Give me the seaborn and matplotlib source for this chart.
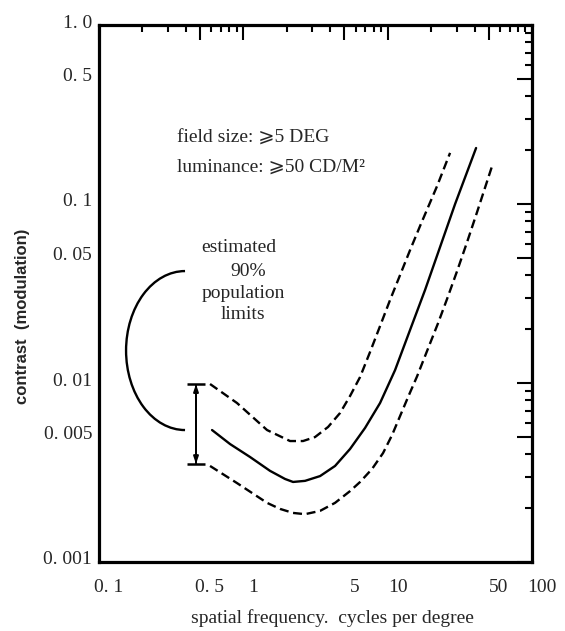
import numpy as np
import pandas as pd
import matplotlib
matplotlib.use("Agg")
import matplotlib.pyplot as plt
import matplotlib.ticker as mticker
import matplotlib.transforms as mtransforms
from matplotlib.patches import Arc
import seaborn as sns

# ---------------- data ----------------
solid_x = [0.607, 0.809, 1.113, 1.531, 1.945, 2.210, 2.677, 3.401, 4.320, 5.488, 6.972,
           8.857, 11.25, 14.30, 18.16, 23.07, 29.32, 40.98]
solid_y = [0.00546, 0.00456, 0.00386, 0.00323, 0.00291, 0.00280, 0.00284, 0.00302, 0.00344,
           0.00428, 0.00561, 0.00773, 0.0118, 0.0198, 0.0331, 0.0575, 0.100, 0.2055]

upper_x = [0.588, 0.904, 1.46, 2.106, 2.593, 3.140, 3.864, 4.68, 5.488, 6.44, 7.55, 8.857,
           10.39, 12.19, 14.30, 16.77, 22.0, 27.06]
upper_y = [0.00987, 0.00773, 0.00546, 0.00474, 0.00474, 0.00499, 0.00568, 0.00680, 0.00846,
           0.0108, 0.0149, 0.0208, 0.0291, 0.0401, 0.0553, 0.0754, 0.126, 0.193]

lower_x = [0.588, 0.904, 1.46, 1.796, 2.210, 2.677, 3.401, 4.320, 5.488, 6.44, 7.795, 9.29,
           10.73, 12.19, 13.85, 15.99, 18.75, 22.35, 25.8, 30.27, 35.51, 41.65, 52.9]
lower_y = [0.00344, 0.00276, 0.00214, 0.00198, 0.00188, 0.00185, 0.00193, 0.00214, 0.00249,
           0.00280, 0.00331, 0.00406, 0.00512, 0.00654, 0.00835, 0.0109, 0.0151, 0.0216,
           0.0295, 0.0422, 0.0613, 0.0902, 0.163]

# error bar marking the population limits
errbar_x = 0.47
errbar_low = 0.00353
errbar_high = 0.00985

# bracket arc (end points and leftmost point, data coordinates)
arc_top = (0.376, 0.0422)
arc_bottom = (0.414, 0.00546)
arc_left_x = 0.154

x_ticks = [0.1, 0.5, 1, 5, 10, 50, 100]
x_ticklabels = ["0. 1", "0. 5", "1", "5", "10", "50", "100"]
y_ticks = [0.001, 0.005, 0.01, 0.05, 0.1, 0.5, 1.0]
y_ticklabels = ["0. 001", "0. 005", "0. 01", "0. 05", "0. 1", "0. 5", "1. 0"]

xlabel = "spatial frequency.  cycles per degree"
ylabel = "contrast  (modulation)"
cond_lines = ["field size: \u2a7e5 DEG", "luminance: \u2a7e50 CD/M\u00b2"]
est_lines = ["estimated", "90%", "population", "limits"]

# ---------------- style ----------------
sns.set_theme(style="white")
serif = ["Liberation Serif", "DejaVu Serif", "DejaVu Sans"]
plt.rcParams["font.family"] = serif

fig = plt.figure(figsize=(5.65, 6.31), dpi=100)
ax = fig.add_axes([99 / 565, 1 - 562 / 631, 433 / 565, 537 / 631])
ax.set_xscale("log")
ax.set_yscale("log")
ax.set_xlim(0.1, 100)
ax.set_ylim(0.001, 1.0)

dash = (0, (3.8, 2.0))
df_s = pd.DataFrame({"x": solid_x, "y": solid_y})
df_u = pd.DataFrame({"x": upper_x, "y": upper_y})
df_l = pd.DataFrame({"x": lower_x, "y": lower_y})
sns.lineplot(data=df_s, x="x", y="y", ax=ax, color="black", lw=1.7, sort=False, estimator=None)
sns.lineplot(data=df_u, x="x", y="y", ax=ax, color="black", lw=1.7, sort=False, estimator=None, linestyle=dash)
sns.lineplot(data=df_l, x="x", y="y", ax=ax, color="black", lw=1.7, sort=False, estimator=None, linestyle=dash)

# error bar with arrows
mid = np.sqrt(errbar_low * errbar_high)
ax.errorbar([errbar_x], [mid], yerr=[[mid - errbar_low], [errbar_high - mid]],
            fmt="none", ecolor="black", elinewidth=1.4, capsize=6.2, capthick=1.8)
ax.annotate("", xy=(errbar_x, errbar_high), xytext=(errbar_x, errbar_low),
            arrowprops=dict(arrowstyle="<|-|>,head_length=0.35,head_width=0.12",
                            color="black", lw=1.4, shrinkA=0, shrinkB=0))

# bracket arc built from data points through the axes transform
to_ax = ax.transData + ax.transAxes.inverted()
p_top = to_ax.transform(arc_top)
p_bot = to_ax.transform(arc_bottom)
p_left = to_ax.transform((arc_left_x, np.sqrt(arc_top[1] * arc_bottom[1])))
cx = (p_top[0] + p_bot[0]) / 2
cy = (p_top[1] + p_bot[1]) / 2
w = 2 * (cx - p_left[0])
h = p_top[1] - p_bot[1]
ax.add_patch(Arc((cx, cy), w, h, theta1=90, theta2=270, transform=ax.transAxes,
                 color="black", lw=1.7))

# texts
ax.text(0.347, 0.234, cond_lines[0], fontsize=14, ha="left", va="center", family=serif)
ax.text(0.347, 0.161, cond_lines[1], fontsize=14, ha="left", va="center", family=serif)
est_pos = [(0.934, 0.0568), (1.078, 0.0422), (0.995, 0.0318), (1.0, 0.0240)]
for (tx, ty), s in zip(est_pos, est_lines):
    ax.text(tx, ty, s, fontsize=14, ha="center", va="center", family=serif)

# ticks
ax.xaxis.set_major_locator(mticker.FixedLocator(x_ticks))
ax.xaxis.set_major_formatter(mticker.FixedFormatter(x_ticklabels))
ax.xaxis.set_minor_locator(mticker.LogLocator(base=10, subs=(2, 3, 4, 6, 7, 8, 9), numticks=20))
ax.xaxis.set_minor_formatter(mticker.NullFormatter())
ax.yaxis.set_major_locator(mticker.FixedLocator(y_ticks))
ax.yaxis.set_major_formatter(mticker.FixedFormatter(y_ticklabels))
ax.yaxis.set_minor_locator(mticker.LogLocator(base=10, subs=(2, 3, 4, 6, 7, 8, 9), numticks=20))
ax.yaxis.set_minor_formatter(mticker.NullFormatter())

ax.tick_params(which="both", direction="in", top=True, right=True, color="black")
ax.tick_params(which="major", length=11, width=1.5)
ax.tick_params(which="minor", length=5, width=1.5)
ax.tick_params(axis="x", which="major", pad=12, labelsize=14)
ax.tick_params(axis="y", which="major", pad=5, labelsize=14)
for spine in ax.spines.values():
    spine.set_visible(True)
    spine.set_color("black")
    spine.set_linewidth(2.3)

offx = mtransforms.ScaledTranslation(10 / 100, 0, fig.dpi_scale_trans)
for lab in ax.get_xticklabels():
    lab.set_transform(lab.get_transform() + offx)
offy = mtransforms.ScaledTranslation(0, 4 / 100, fig.dpi_scale_trans)
for lab in ax.get_yticklabels():
    lab.set_transform(lab.get_transform() + offy)

ax.set_xlabel(xlabel, fontsize=14, family=serif)
ax.xaxis.set_label_coords(0.54, -0.088)
ax.set_ylabel(ylabel, fontsize=12, fontweight="bold", family=["Liberation Sans", "DejaVu Sans"])
ax.yaxis.set_label_coords(-0.16, 0.458)

ax.set_facecolor("white")
fig.patch.set_facecolor("white")
fig.savefig("out.png", dpi=100)
